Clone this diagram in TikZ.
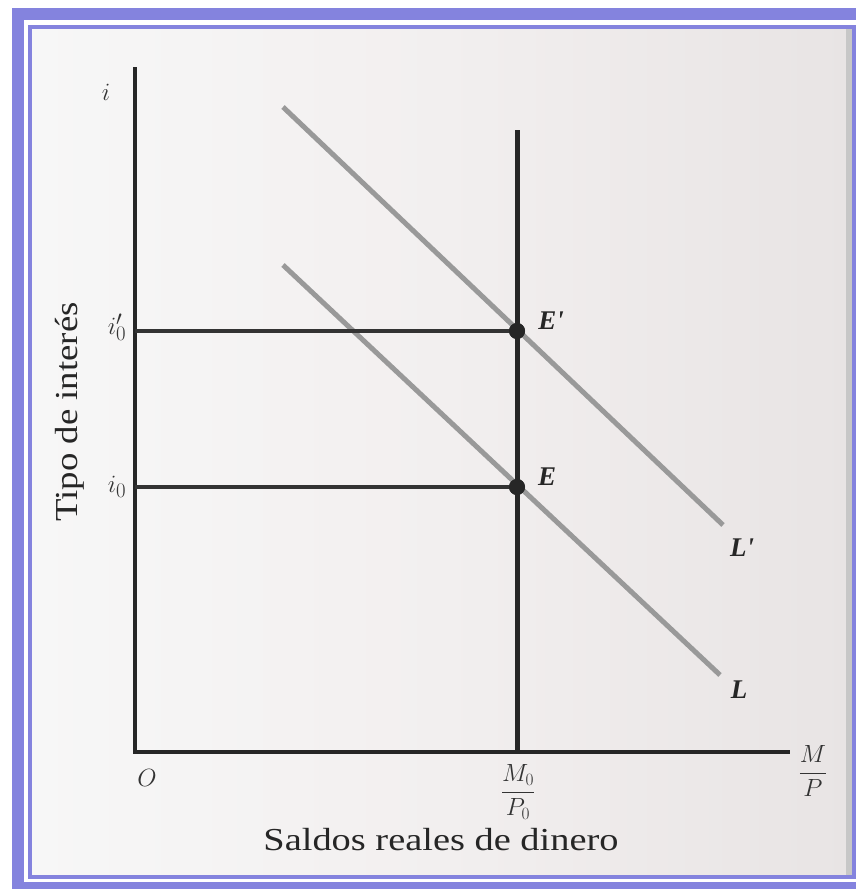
\documentclass[tikz,border=0pt]{standalone}
\usepackage{fontspec}
\setmainfont{Liberation Serif}
\definecolor{framecol}{RGB}{132,131,222}
\definecolor{paperL}{RGB}{247,247,247}
\definecolor{paperM}{RGB}{242,239,239}
\definecolor{paperR}{RGB}{232,228,228}
\begin{document}
\begin{tikzpicture}[x=1pt,y=-1pt,
  axis/.style={line width=4pt, color=black!85},
  guide/.style={line width=3.5pt, color=black!80},
  demand/.style={line width=5pt, color=black!40},
  dot/.style={circle, fill=black!85, inner sep=0pt, minimum size=16pt},
  ptlabel/.style={font=\fontsize{27}{30}\selectfont\bfseries\itshape, inner sep=0pt, text=black!85},
  ticklab/.style={font=\fontsize{28}{32}\selectfont, inner sep=0pt, text=black!80},
  axtitle/.style={font=\fontsize{32}{36}\selectfont, inner sep=0pt, text=black!85}]
\useasboundingbox (0,0) rectangle (856,889);
% frame
\begin{scope}
  \clip (0,0) rectangle (856,889);
  \draw[framecol, line width=12pt] (18,14) rectangle (866,888);
\end{scope}
\shade[left color=paperL, right color=paperR, middle color=paperM] (32,29) rectangle (852,875);
\fill[black!22] (846,29) rectangle (852,875);
\draw[framecol, line width=4pt] (30,27) rectangle (854,876.5);
% coordinates
\coordinate (O) at (135,752);
\coordinate (ytop) at (135,67);
\coordinate (xend) at (790,752);
\coordinate (vtop) at (517,130);
\coordinate (vbot) at (517,752);
\coordinate (ip) at (135,331);
\coordinate (iz) at (135,487);
\coordinate (Lps) at (283,107);
\coordinate (Lpe) at (723,525);
\coordinate (Ls) at (283,265);
\coordinate (Le) at (720,675);
% demand curves
\draw[demand] (Lps) -- (Lpe);
\draw[demand] (Ls) -- (Le);
% axes
\draw[axis, line join=miter] (ytop) -- (O) -- (xend);
\draw[axis, line width=5pt] (vtop) -- (vbot);
% guides and points
\node[dot] (Ep) at (517,331) {};
\node[dot] (E) at (517,487) {};
\draw[guide] (ip) -- (Ep.center);
\draw[guide] (iz) -- (E.center);
\node[dot] at (Ep) {};
\node[dot] at (E) {};
% labels
\node[ptlabel] (lEp) at (551,321) {E\textquotesingle};
\node[ptlabel] (lE) at (547,477) {E};
\node[ptlabel] (lLp) at (742,548) {L\textquotesingle};
\node[ptlabel] (lL) at (739,690) {L};
\node[ticklab] (yl) at (106,92) {$i$};
\node[ticklab] (lip) at (117,327) {$i'_0$};
\node[ticklab] (liz) at (117,487) {$i_0$};
\node[ticklab] (lO) at (147,778) {$O$};
\node[ticklab, font=\fontsize{25}{28}\selectfont] (lM0) at (518,792) {$\displaystyle\frac{M_0}{P_0}$};
\node[ticklab] (lMP) at (813,771) {$\displaystyle\frac{M}{P}$};
\node[axtitle] (xt) at (441,840) {\scalebox{1.2}[1]{Saldos reales de dinero}};
\node[axtitle, rotate=90] (yt) at (70,412) {\scalebox{1.15}[1]{Tipo de interés}};
\end{tikzpicture}
\end{document}
